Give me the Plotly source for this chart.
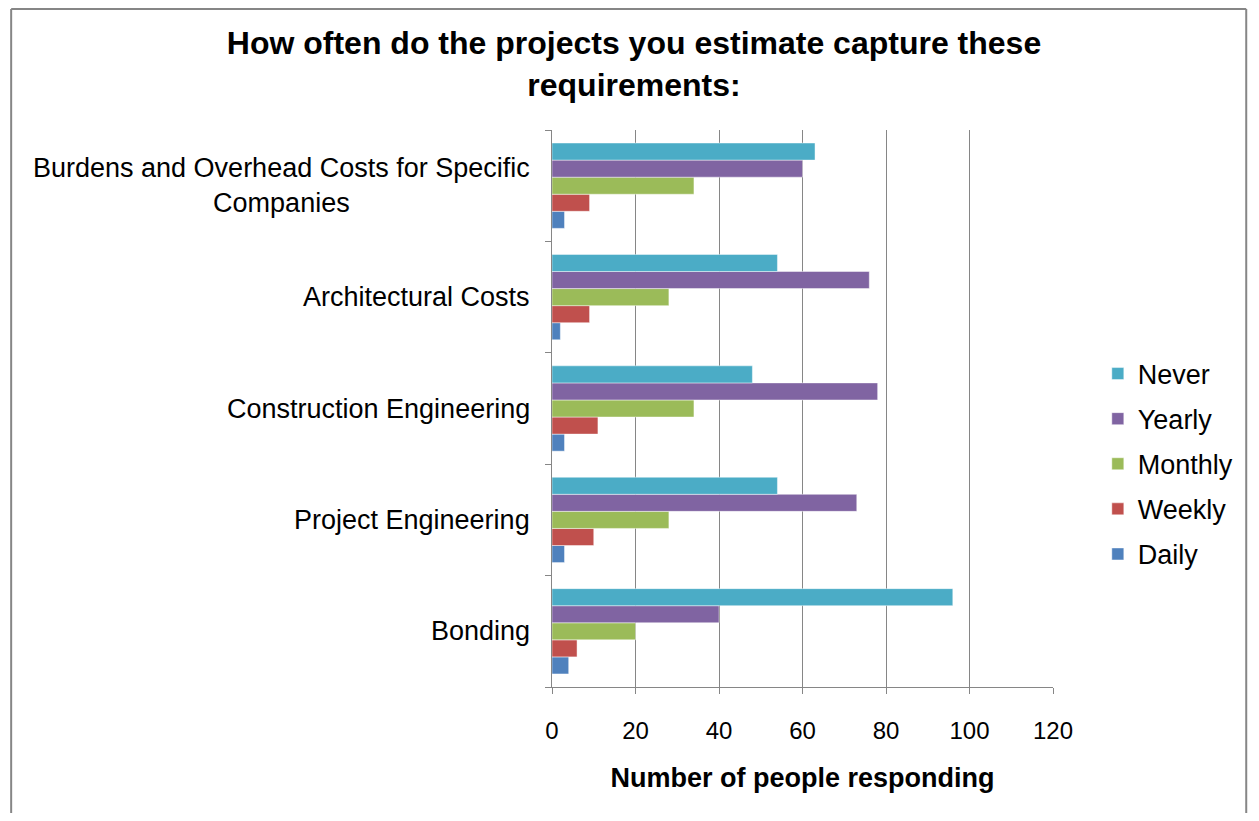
import plotly.graph_objects as go

categories = ["Bonding", "Project Engineering", "Construction Engineering",
              "Architectural Costs", "Burdens and Overhead Costs for Specific<br>Companies"]
series_names = ["Daily", "Weekly", "Monthly", "Yearly", "Never"]
daily = [4, 3, 3, 2, 3]
weekly = [6, 10, 11, 9, 9]
monthly = [20, 28, 34, 28, 34]
yearly = [40, 73, 78, 76, 60]
never = [96, 54, 48, 54, 63]
colors = ["#4F81BD", "#C0504D", "#9BBB59", "#8064A2", "#4BACC6"]
x_ticks = [0, 20, 40, 60, 80, 100, 120]

FONT = "Liberation Sans, Arial, sans-serif"
fig = go.Figure()
for i, (name, vals, col) in enumerate(zip(series_names, [daily, weekly, monthly, yearly, never], colors)):
    fig.add_trace(go.Bar(
        y=categories, x=vals, name=name, orientation="h",
        marker=dict(color=col, line=dict(color="rgba(255,255,255,0.45)", width=1)),
        legendgroup=name, legendrank=len(series_names) - i,
    ))

for c in categories:
    fig.add_annotation(
        x=0, xref="x", y=c, yref="y", text=c, showarrow=False,
        xanchor="right", yanchor="middle", align="center", xshift=-20,
        font=dict(family=FONT, size=27, color="#000000"),
    )

# page offset (body margin) is 8px
OFF = 8
W, H = 1259 - 2 * OFF, 821 - 2 * OFF
PL, PR, PT, PB = 552, 1055, 130, 687  # plot area in page pixels
L, R, T, B = PL - OFF, (W + OFF) - PR, PT - OFF, (H + OFF) - PB
pw, ph = PR - PL, PB - PT

def px_to_paper_x(px):
    return (px - PL) / pw

def px_to_paper_y(py):
    return (PB - py) / ph

# chart border (left, top, right; bottom is outside the view)
bx0, bx1 = px_to_paper_x(9), px_to_paper_x(1249)
by0, by1 = px_to_paper_y(1000), px_to_paper_y(9)
for x0, y0, x1, y1 in [(bx0, by0, bx0, by1), (bx0, by1, bx1, by1), (bx1, by1, bx1, by0)]:
    fig.add_shape(type="line", xref="paper", yref="paper", x0=x0, y0=y0, x1=x1, y1=y1,
                  line=dict(color="#868686", width=2), layer="below")

fig.update_layout(
    width=W, height=H,
    margin=dict(l=L, r=R, t=T, b=B),
    paper_bgcolor="white", plot_bgcolor="white",
    font=dict(family=FONT, size=22, color="#000000"),
    barmode="group", bargap=0.234, bargroupgap=0,
    title=dict(
        text="<b>How often do the projects you estimate capture these<br>requirements:</b>",
        x=(634 - OFF) / W, xanchor="center", xref="container",
        y=1 - (54 - OFF) / H, yanchor="middle", yref="container",
        font=dict(family=FONT, size=32, color="#000000"),
    ),
    legend=dict(
        x=px_to_paper_x(1100), xanchor="left", y=px_to_paper_y(464), yanchor="middle",
        traceorder="grouped", tracegroupgap=7,
        font=dict(family=FONT, size=27, color="#000000"),
        bgcolor="rgba(0,0,0,0)",
    ),
    xaxis=dict(
        range=[0, 120], tickvals=x_ticks, showgrid=True, gridcolor="#868686", gridwidth=1,
        showline=True, linecolor="#868686", linewidth=1, ticks="outside", ticklen=6,
        tickcolor="#868686", zeroline=False, ticklabelstandoff=16,
        tickfont=dict(family=FONT, size=24),
        title=dict(text="<b>Number of people responding</b>", standoff=25,
                   font=dict(family=FONT, size=27)),
    ),
    yaxis=dict(
        type="category", categoryorder="array", categoryarray=categories,
        showline=True, linecolor="#868686", linewidth=1, ticks="outside", ticklen=6,
        tickcolor="#868686", tickson="boundaries", showticklabels=False, showgrid=False,
    ),
)

fig.write_html("out.html")
